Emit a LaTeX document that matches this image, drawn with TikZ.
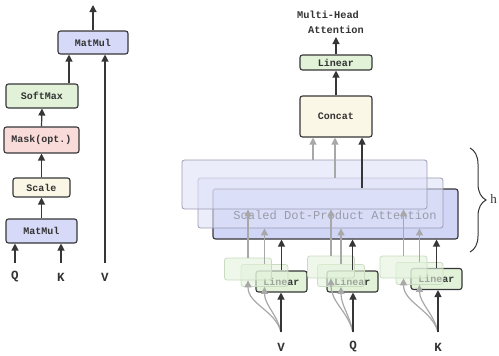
\documentclass[tikz,border=0pt]{standalone}
\usepackage{fontspec}
\setmainfont{Liberation Serif}
\setmonofont{Liberation Mono}
\usetikzlibrary{arrows.meta,calc,decorations.pathreplacing}
\definecolor{bd}{HTML}{363638}
\definecolor{blueF}{HTML}{D6DAF8}
\definecolor{greenF}{HTML}{E1F2D8}
\definecolor{pinkF}{HTML}{F9DCDA}
\definecolor{creamF}{HTML}{FBF7E6}
\definecolor{rectF}{HTML}{D1D5F6}
\definecolor{ghostBF}{HTML}{DEE1F8}
\definecolor{ghostBD}{HTML}{9A9CB0}
\definecolor{ghostGF}{HTML}{E3F2DC}
\definecolor{ghostGD}{HTML}{C9DCC0}
\definecolor{grayA}{HTML}{A8A8A8}
\definecolor{txt}{HTML}{333333}
\begin{document}
\begin{tikzpicture}[x=1pt,y=-1pt,
  box/.style={draw=bd, line width=1.1pt, rounded corners=2.5pt, inner sep=0pt,
    text=txt, font=\ttfamily\bfseries\fontsize{10}{10}\selectfont},
  ghostR/.style={draw=ghostBD, line width=0.8pt, fill=ghostBF, fill opacity=0.6,
    rounded corners=2.5pt, inner sep=0pt, minimum width=245pt},
  ghostG/.style={draw=ghostGD, line width=0.8pt, fill=ghostGF, fill opacity=0.6,
    rounded corners=2.5pt, inner sep=0pt, minimum width=47pt, minimum height=22pt},
  linbox/.style={box, fill=greenF, minimum width=51pt, minimum height=21pt},
  arr/.style={-{Triangle[length=7pt,width=7pt]}, line width=1.2pt, draw=bd},
  garr/.style={arr, draw=grayA},
  lbl/.style={text=txt, font=\ttfamily\bfseries\fontsize{12.5}{13}\selectfont, inner sep=0pt},
  ttl/.style={text=txt, font=\ttfamily\bfseries\fontsize{10.3}{11}\selectfont, inner sep=0pt}]
\useasboundingbox (0,0) rectangle (499,356);

% ---------- left: scaled dot-product attention ----------
\node[box, fill=blueF, minimum width=70pt, minimum height=23pt] (mm2) at (93,42.5) {MatMul};
\node[box, fill=greenF, minimum width=72pt, minimum height=24pt] (soft) at (42,96) {SoftMax};
\node[box, fill=pinkF, minimum width=75pt, minimum height=26pt] (mask) at (41.5,140) {Mask(opt.)};
\node[box, fill=creamF, minimum width=57pt, minimum height=19pt] (scale) at (41.5,187.5) {Scale};
\node[box, fill=blueF, minimum width=71pt, minimum height=24pt] (mm1) at (41.5,231) {MatMul};

\coordinate (qin) at (15,263);
\coordinate (kin) at (61,263);
\coordinate (vin) at (105,263);
\coordinate (smx) at (69,100);
\coordinate (out1) at (93,5);

\node[lbl] (lq) at (15,277) {Q};
\node[lbl] (lk) at (61,277) {K};
\node[lbl] (lv) at (105,277) {V};

\draw[arr] (qin) -- (mm1.south -| qin);
\draw[arr] (kin) -- (mm1.south -| kin);
\draw[arr] (vin) -- (mm2.south -| vin);
\draw[arr] (mm1.north) -- (scale.south);
\draw[arr] (scale.north) -- (mask.south);
\draw[arr] (mask.north) -- (soft.south);
\draw[arr] (soft.north -| smx) -- (mm2.south -| smx);
\draw[arr] (mm2.north) -- (out1);

% ---------- right: multi-head attention ----------
\node[ttl] (mh1) at (328,15) {Multi-Head};
\node[ttl] (mh2) at (336,30) {Attention};
\coordinate (out2) at (336,37);
\node[box, fill=greenF, minimum width=72pt, minimum height=15pt] (lin) at (336,62.5) {Linear};
\node[box, fill=creamF, minimum width=72pt, minimum height=41pt] (cat) at (336,116.5) {Concat};

\node[box, fill=rectF, minimum width=245pt, minimum height=50pt] (r3) at (335.5,214) {};
\node[text=txt, font=\ttfamily\fontsize{12.1}{13}\selectfont, inner sep=0pt] (sdpa) at (335,215) {Scaled Dot-Product Attention};
\node[ghostR, minimum height=50pt] (r2) at (320.5,203) {};
\node[ghostR, minimum height=49pt] (r1) at (304.5,184.5) {};

% linear groups
\node[linbox] (fV) at (281.5,281.5) {Linear};
\node[ghostG] (b2V) at (264.5,275.5) {};
\node[ghostG] (b1V) at (248,269) {};
\node[linbox] (fQ) at (352.5,281.5) {Linear};
\node[ghostG] (b2Q) at (341,275.5) {};
\node[ghostG] (b1Q) at (331,267) {};
\node[linbox] (fK) at (436.5,279) {Linear};
\node[ghostG] (b2K) at (419.5,273.5) {};
\node[ghostG] (b1K) at (403.5,267) {};

\coordinate (sV) at (281,332);
\coordinate (sQ) at (353,332);
\coordinate (sK) at (438,332);
\node[lbl] (lV) at (281,347) {V};
\node[lbl] (lQ) at (353,347) {Q};
\node[lbl] (lK) at (438,347) {K};

% arrows into linear boxes
\foreach \g in {V,Q,K}{
  \draw[garr] (s\g) .. controls +(-6,-22) and +(0,24) .. (b1\g.south);
  \draw[garr] (s\g) .. controls +(-4,-18) and +(0,18) .. (b2\g.south);
  \draw[arr] (s\g) -- (f\g.south -| s\g);
  \draw[garr] (b1\g.north) -- (r1.south -| b1\g.north);
  \draw[garr] (b2\g.north) -- (r2.south -| b2\g.north);
  \draw[arr] (f\g.north) -- (r3.south -| f\g.north);
}

% arrows into concat
\coordinate (c1) at (313,150);
\coordinate (c2) at (335,150);
\coordinate (c3) at (362,150);
\draw[garr] (r1.north -| c1) -- (cat.south -| c1);
\draw[garr] (r2.north -| c2) -- (cat.south -| c2);
\draw[arr] (r3.north -| c3) -- (cat.south -| c3);
\draw[arr] (cat.north) -- (lin.south);
\draw[arr] (lin.north) -- (out2);

% brace and h
\coordinate (brT) at (470,148);
\coordinate (brB) at (470,252);
\draw[bd, line width=1pt, decorate, decoration={brace, amplitude=16pt}] (brT) -- (brB);
\node[text=txt, font=\fontsize{13}{13}\selectfont, inner sep=0pt] (hh) at (493.5,199) {h};
\end{tikzpicture}
\end{document}
